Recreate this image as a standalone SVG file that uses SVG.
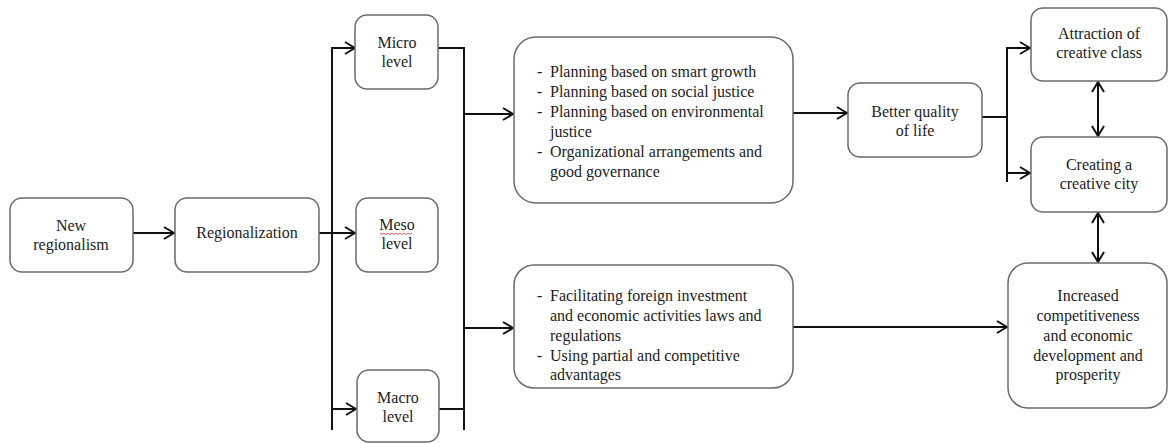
<svg xmlns="http://www.w3.org/2000/svg" width="1168" height="443" viewBox="0 0 1168 443" font-family="Liberation Serif, Times New Roman, serif">
<style>
.box{fill:#fff;stroke:#6a6a6a;stroke-width:1.5}
.ln{fill:none;stroke:#111;stroke-width:2}
.t{font-family:Liberation Serif, Times New Roman, serif;font-size:16px;fill:#1c1c24}
.c{text-anchor:middle}
</style>
<defs>
<marker id="ah" viewBox="0 0 12 14" refX="11" refY="7" markerWidth="12" markerHeight="14" markerUnits="userSpaceOnUse" orient="auto-start-reverse">
<path d="M1,1 L11,7 L1,13" fill="none" stroke="#111" stroke-width="2"/>
</marker>
</defs>
<rect width="1168" height="443" fill="#fff"/>
<g id="connectors">
<line class="ln" x1="133" y1="233" x2="174" y2="233" marker-end="url(#ah)"/>
<line class="ln" x1="319" y1="233" x2="355" y2="233" marker-end="url(#ah)"/>
<line class="ln" x1="332" y1="48" x2="332" y2="430"/>
<line class="ln" x1="331" y1="48" x2="355" y2="48" marker-end="url(#ah)"/>
<line class="ln" x1="331" y1="409" x2="356" y2="409" marker-end="url(#ah)"/>
<line class="ln" x1="438" y1="48" x2="465" y2="48"/>
<line class="ln" x1="439" y1="409" x2="465" y2="409"/>
<line class="ln" x1="464" y1="47" x2="464" y2="430"/>
<line class="ln" x1="464" y1="114" x2="513" y2="114" marker-end="url(#ah)"/>
<line class="ln" x1="464" y1="328" x2="513" y2="328" marker-end="url(#ah)"/>
<line class="ln" x1="793" y1="113" x2="847" y2="113" marker-end="url(#ah)"/>
<line class="ln" x1="793" y1="327" x2="1007" y2="327" marker-end="url(#ah)"/>
<line class="ln" x1="982" y1="117" x2="1008" y2="117"/>
<path class="ln" d="M1007,182 L1007,48 L1030,48" marker-end="url(#ah)"/>
<line class="ln" x1="1006" y1="173" x2="1030" y2="173" marker-end="url(#ah)"/>
<line class="ln" x1="1098" y1="82" x2="1098" y2="136" marker-start="url(#ah)" marker-end="url(#ah)"/>
<line class="ln" x1="1098" y1="213" x2="1098" y2="262" marker-start="url(#ah)" marker-end="url(#ah)"/>
</g>
<g id="new-regionalism">
<rect class="box" x="10" y="198" width="123" height="74" rx="12"/>
<text class="t c" x="71" y="231">New</text>
<text class="t c" x="71" y="250">regionalism</text>
</g>
<g id="regionalization">
<rect class="box" x="175" y="198" width="144" height="74" rx="12"/>
<text class="t c" x="247" y="238">Regionalization</text>
</g>
<g id="micro">
<rect class="box" x="355" y="15" width="83" height="74" rx="12"/>
<text class="t c" x="397" y="48">Micro</text>
<text class="t c" x="397" y="67">level</text>
</g>
<g id="meso">
<rect class="box" x="356" y="198" width="82" height="74" rx="12"/>
<text class="t c" x="397" y="230">Meso</text>
<text class="t c" x="397" y="249">level</text>
<path d="M380,233 l2,1.5 l2,-1.5 l2,1.5 l2,-1.5 l2,1.5 l2,-1.5 l2,1.5 l2,-1.5 l2,1.5 l2,-1.5 l2,1.5 l2,-1.5 l2,1.5 l2,-1.5 l2,1.5 l2,-1.5" fill="none" stroke="#e03030" stroke-width="0.8"/>
</g>
<g id="macro">
<rect class="box" x="357" y="370" width="82" height="72" rx="12"/>
<text class="t c" x="398" y="403">Macro</text>
<text class="t c" x="398" y="422">level</text>
</g>
<g id="planning">
<rect class="box" x="514" y="37" width="279" height="166" rx="22"/>
<text class="t" x="537" y="77">-</text><text class="t" x="550" y="77">Planning based on smart growth</text>
<text class="t" x="537" y="97">-</text><text class="t" x="550" y="97">Planning based on social justice</text>
<text class="t" x="537" y="117">-</text><text class="t" x="550" y="117">Planning based on environmental</text>
<text class="t" x="550" y="137">justice</text>
<text class="t" x="537" y="157">-</text><text class="t" x="550" y="157">Organizational arrangements and</text>
<text class="t" x="550" y="177">good governance</text>
</g>
<g id="investment">
<rect class="box" x="514" y="265" width="279" height="123" rx="20"/>
<text class="t" x="537" y="301">-</text><text class="t" x="550" y="301">Facilitating foreign investment</text>
<text class="t" x="550" y="321">and economic activities laws and</text>
<text class="t" x="550" y="341">regulations</text>
<text class="t" x="537" y="361">-</text><text class="t" x="550" y="361">Using partial and competitive</text>
<text class="t" x="550" y="380">advantages</text>
</g>
<g id="quality">
<rect class="box" x="848" y="83" width="134" height="74" rx="12"/>
<text class="t c" x="915" y="117">Better quality</text>
<text class="t c" x="915" y="136">of life</text>
</g>
<g id="attraction">
<rect class="box" x="1031" y="8" width="136" height="73" rx="12"/>
<text class="t c" x="1099" y="39">Attraction of</text>
<text class="t c" x="1099" y="58">creative class</text>
</g>
<g id="creative-city">
<rect class="box" x="1031" y="137" width="136" height="75" rx="12"/>
<text class="t c" x="1099" y="170">Creating a</text>
<text class="t c" x="1099" y="189">creative city</text>
</g>
<g id="competitiveness">
<rect class="box" x="1008" y="263" width="159" height="145" rx="20"/>
<text class="t c" x="1088" y="301">Increased</text>
<text class="t c" x="1088" y="321">competitiveness</text>
<text class="t c" x="1088" y="341">and economic</text>
<text class="t c" x="1088" y="361">development and</text>
<text class="t c" x="1088" y="380">prosperity</text>
</g>
</svg>
